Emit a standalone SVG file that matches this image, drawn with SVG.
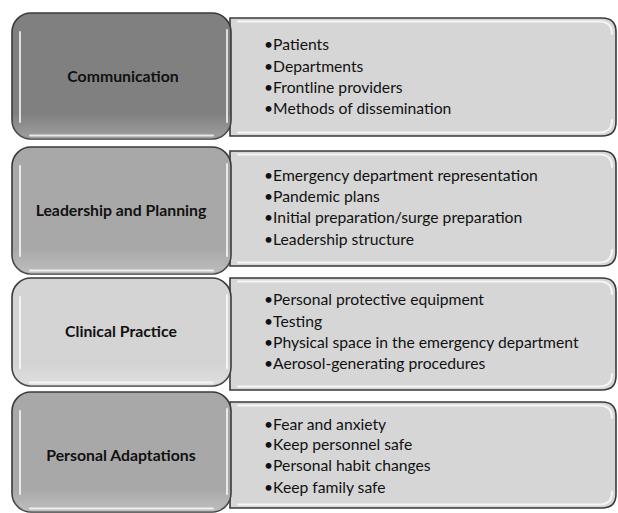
<svg xmlns="http://www.w3.org/2000/svg" width="618" height="513" viewBox="0 0 618 513">
<defs>
<style>
.cat{stroke:#3a3a3a;stroke-width:1.6}
.det{fill:#d6d6d6;stroke:#3a3a3a;stroke-width:1.6}
.hl{fill:none;stroke:#ffffff;stroke-width:2;stroke-opacity:0.75;stroke-linecap:round}
.lbl{font-family:Lato,"Liberation Sans",sans-serif;font-weight:bold;font-size:15.8px;fill:#111;text-anchor:middle}
.item{font-family:Lato,"Liberation Sans",sans-serif;font-size:15.7px;fill:#111}
</style>
<linearGradient id="shine" x1="0" y1="0" x2="0" y2="1">
<stop offset="0" stop-color="#ffffff" stop-opacity="0"/>
<stop offset="0.8" stop-color="#ffffff" stop-opacity="0"/>
<stop offset="1" stop-color="#ffffff" stop-opacity="0.25"/>
</linearGradient>
</defs>
<rect width="618" height="513" fill="#ffffff"/>

<g id="row1-detail">
<path class="det" d="M230,18 H602 Q616,18 616,32 V122 Q616,136 602,136 H230 Z"/>
<path class="hl" d="M238,21.5 H600 Q612,22 612,34"/>
<path class="hl" d="M238,132.5 H600 Q612,132 612,120"/>
<text class="item" x="264" y="50">•Patients</text>
<text class="item" x="264" y="72">•Departments</text>
<text class="item" x="264" y="93">•Frontline providers</text>
<text class="item" x="264" y="114">•Methods of dissemination</text>
</g>
<g id="row1-category">
<rect class="cat" x="12" y="13" width="219" height="126" rx="19" fill="#808080"/>
<rect x="12" y="13" width="219" height="126" rx="19" fill="url(#shine)"/>
<path class="hl" d="M20,32 V122"/>
<path class="hl" d="M227,30 V122" stroke-opacity="0.5"/>
<path class="hl" d="M30,135.5 H213" stroke-opacity="0.4"/>
<text class="lbl" x="123" y="82">Communication</text>
</g>

<g id="row2-detail">
<path class="det" d="M230,151 H602 Q616,151 616,165 V252 Q616,266 602,266 H230 Z"/>
<path class="hl" d="M238,154.5 H600 Q612,155 612,167"/>
<path class="hl" d="M238,262.5 H600 Q612,262 612,250"/>
<text class="item" x="264" y="181">•Emergency department representation</text>
<text class="item" x="264" y="202">•Pandemic plans</text>
<text class="item" x="264" y="223">•Initial preparation/surge preparation</text>
<text class="item" x="264" y="245">•Leadership structure</text>
</g>
<g id="row2-category">
<rect class="cat" x="12" y="147" width="219" height="127" rx="19" fill="#a8a8a8"/>
<rect x="12" y="147" width="219" height="127" rx="19" fill="url(#shine)"/>
<path class="hl" d="M20,166 V256"/>
<path class="hl" d="M227,164 V256" stroke-opacity="0.5"/>
<path class="hl" d="M30,270.5 H213" stroke-opacity="0.4"/>
<text class="lbl" x="121" y="216">Leadership and Planning</text>
</g>

<g id="row3-detail">
<path class="det" d="M230,278 H602 Q616,278 616,292 V376 Q616,390 602,390 H230 Z"/>
<path class="hl" d="M238,281.5 H600 Q612,282 612,294"/>
<path class="hl" d="M238,386.5 H600 Q612,386 612,374"/>
<text class="item" x="264" y="305">•Personal protective equipment</text>
<text class="item" x="264" y="327">•Testing</text>
<text class="item" x="264" y="348">•Physical space in the emergency department</text>
<text class="item" x="264" y="369">•Aerosol-generating procedures</text>
</g>
<g id="row3-category">
<rect class="cat" x="12" y="278" width="219" height="108" rx="19" fill="#d4d4d4"/>
<rect x="12" y="278" width="219" height="108" rx="19" fill="url(#shine)"/>
<path class="hl" d="M20,297 V368"/>
<path class="hl" d="M227,295 V368" stroke-opacity="0.5"/>
<path class="hl" d="M30,382.5 H213" stroke-opacity="0.4"/>
<text class="lbl" x="121" y="337">Clinical Practice</text>
</g>

<g id="row4-detail">
<path class="det" d="M230,402 H602 Q616,402 616,416 V494 Q616,508 602,508 H230 Z"/>
<path class="hl" d="M238,405.5 H600 Q612,406 612,418"/>
<path class="hl" d="M238,504.5 H600 Q612,504 612,492"/>
<text class="item" x="264" y="430">•Fear and anxiety</text>
<text class="item" x="264" y="450">•Keep personnel safe</text>
<text class="item" x="264" y="471">•Personal habit changes</text>
<text class="item" x="264" y="493">•Keep family safe</text>
</g>
<g id="row4-category">
<rect class="cat" x="12" y="392" width="219" height="120" rx="19" fill="#a8a8a8"/>
<rect x="12" y="392" width="219" height="120" rx="19" fill="url(#shine)"/>
<path class="hl" d="M20,411 V494"/>
<path class="hl" d="M227,409 V494" stroke-opacity="0.5"/>
<path class="hl" d="M30,508.5 H213" stroke-opacity="0.4"/>
<text class="lbl" x="121" y="461">Personal Adaptations</text>
</g>

<g id="connectors"/>
</svg>
